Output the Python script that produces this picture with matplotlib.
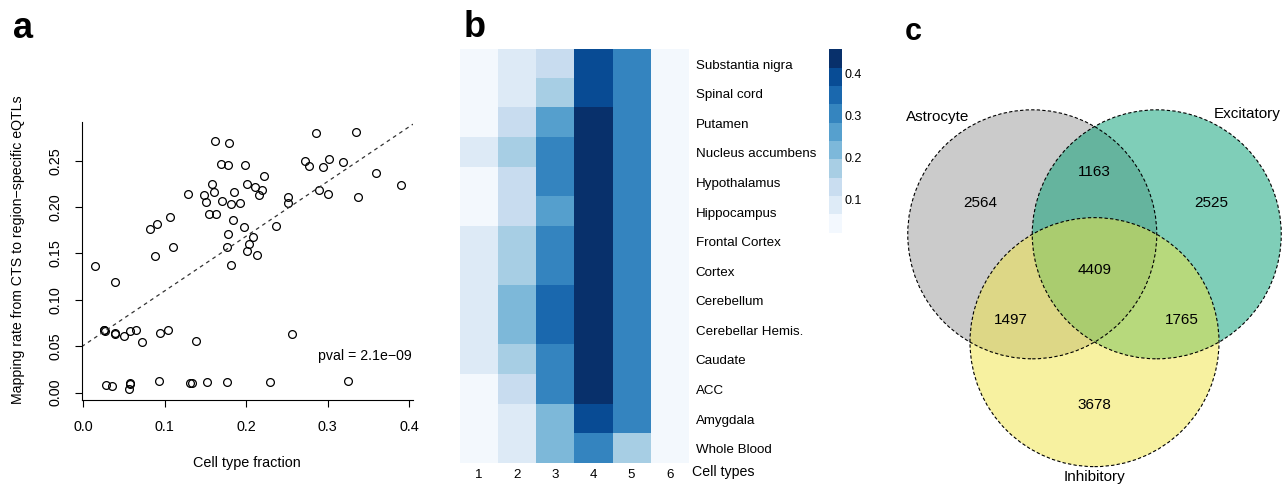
import numpy as np
import matplotlib.pyplot as plt
from matplotlib.colors import ListedColormap, BoundaryNorm
from matplotlib.patches import Circle
from matplotlib.ticker import NullLocator

plt.rcParams['font.family'] = ['Liberation Sans', 'DejaVu Sans']

# panel a: cell type fraction vs mapping rate
frac = [0.014, 0.039, 0.082, 0.091, 0.107, 0.088, 0.110, 0.129, 0.148, 0.151,
        0.158, 0.161, 0.162, 0.179, 0.169, 0.178, 0.198, 0.155, 0.163, 0.170,
        0.182, 0.193, 0.185, 0.201, 0.211, 0.220, 0.216, 0.222, 0.184, 0.197,
        0.178, 0.208, 0.204, 0.201, 0.213, 0.177, 0.182, 0.237, 0.251, 0.251,
        0.272, 0.277, 0.286, 0.290, 0.300, 0.295, 0.302, 0.319, 0.335, 0.338,
        0.359, 0.390,
        0.026, 0.027, 0.026, 0.039, 0.039, 0.050, 0.057, 0.065, 0.072, 0.094,
        0.104, 0.139, 0.256,
        0.028, 0.035, 0.057, 0.057, 0.056, 0.093, 0.131, 0.134, 0.152, 0.177,
        0.229, 0.325]
rate = [0.137, 0.119, 0.176, 0.182, 0.189, 0.147, 0.157, 0.214, 0.213, 0.205,
        0.225, 0.216, 0.271, 0.269, 0.246, 0.245, 0.245, 0.193, 0.193, 0.207,
        0.203, 0.204, 0.216, 0.225, 0.222, 0.218, 0.213, 0.234, 0.186, 0.179,
        0.171, 0.168, 0.160, 0.153, 0.148, 0.157, 0.138, 0.180, 0.211, 0.204,
        0.250, 0.244, 0.280, 0.218, 0.214, 0.243, 0.252, 0.249, 0.281, 0.211,
        0.237, 0.224,
        0.067, 0.066, 0.068, 0.064, 0.063, 0.061, 0.066, 0.067, 0.055, 0.064,
        0.067, 0.056, 0.063,
        0.008, 0.007, 0.009, 0.010, 0.004, 0.013, 0.010, 0.010, 0.012, 0.011,
        0.011, 0.013]
fit_intercept = 0.0508
fit_slope = 0.589
pval_text = 'pval = 2.1e\u221209'

# panel b: heatmap
tissues = ['Substantia nigra', 'Spinal cord', 'Putamen', 'Nucleus accumbens',
           'Hypothalamus', 'Hippocampus', 'Frontal Cortex', 'Cortex',
           'Cerebellum', 'Cerebellar Hemis.', 'Caudate', 'ACC', 'Amygdala',
           'Whole Blood']
cell_types = ['1', '2', '3', '4', '5', '6']
heat = [
    [0.04, 0.085, 0.13, 0.39, 0.30, 0.04],
    [0.04, 0.085, 0.17, 0.39, 0.30, 0.04],
    [0.04, 0.13, 0.26, 0.435, 0.30, 0.04],
    [0.085, 0.17, 0.30, 0.435, 0.30, 0.04],
    [0.04, 0.13, 0.30, 0.435, 0.30, 0.04],
    [0.04, 0.13, 0.26, 0.435, 0.30, 0.04],
    [0.085, 0.17, 0.30, 0.435, 0.30, 0.04],
    [0.085, 0.17, 0.30, 0.435, 0.30, 0.04],
    [0.085, 0.215, 0.345, 0.435, 0.30, 0.04],
    [0.085, 0.215, 0.345, 0.435, 0.30, 0.04],
    [0.085, 0.17, 0.30, 0.435, 0.30, 0.04],
    [0.04, 0.13, 0.30, 0.435, 0.30, 0.04],
    [0.04, 0.085, 0.215, 0.39, 0.30, 0.04],
    [0.04, 0.085, 0.215, 0.30, 0.17, 0.04],
]
cbar_ticks = [0.1, 0.2, 0.3, 0.4]

# panel c: venn counts
venn_sets = ['Astrocyte', 'Excitatory', 'Inhibitory']
venn_colors = ['#999999', '#009E73', '#F0E442']
only_a, only_e, only_i = 2564, 2525, 3678
a_e, a_i, e_i, a_e_i = 1163, 1497, 1765, 4409

W, H = 1285, 487
fig = plt.figure(figsize=(W / 100, H / 100), dpi=100)

def box(x0, y0, x1, y1):
    return [x0 / W, 1 - y1 / H, (x1 - x0) / W, (y1 - y0) / H]

# ---- a ----
ax = fig.add_axes(box(81.7, 121.7, 413, 400))
ax.plot(frac, rate, 'o', mfc='none', mec='black', ms=5.6, mew=0.9)
ax.axline((0, fit_intercept), slope=fit_slope, color='#333333', lw=0.9,
          ls=(0, (3, 3)))
ax.set_xlim(-0.002, 0.405)
ax.set_ylim(-0.0079, 0.292)
ax.set_xticks([0.0, 0.1, 0.2, 0.3, 0.4])
ax.set_xticklabels(['0.0', '0.1', '0.2', '0.3', '0.4'])
ax.set_yticks([0.0, 0.05, 0.10, 0.15, 0.20, 0.25])
ax.set_yticklabels(['0.00', '0.05', '0.10', '0.15', '0.20', '0.25'],
                   rotation=90, va='center')
ax.tick_params(labelsize=10.4, length=5, width=0.8)
ax.tick_params(axis='x', pad=9.5)
ax.tick_params(axis='y', pad=8.5)
for s in ['top', 'right']:
    ax.spines[s].set_visible(False)
for s in ['left', 'bottom']:
    ax.spines[s].set_linewidth(0.8)
ax.text(0.404, 0.0396, pval_text, ha='right', va='center', fontsize=10.2)
ax.set_xlabel('Cell type fraction', fontsize=10.4, labelpad=16)
ax.set_ylabel('Mapping rate from CTS to region\u2212specific eQTLs',
              fontsize=10.2)
ax.yaxis.set_label_coords(-0.172, 0.539)

# ---- b ----
levels = np.linspace(0.02, 0.457, 11)
cmap = ListedColormap(plt.get_cmap('Blues')(np.linspace(0.02, 1.0, 10)))
norm = BoundaryNorm(levels, cmap.N)
hx = fig.add_axes(box(460, 49.3, 688.7, 463.5))
im = hx.imshow(np.array(heat), cmap=cmap, norm=norm, aspect='auto',
               interpolation='nearest')
hx.set_xticks(range(len(cell_types)))
hx.set_xticklabels(cell_types)
hx.set_yticks(range(len(tissues)))
hx.set_yticklabels(tissues)
hx.yaxis.tick_right()
hx.tick_params(length=0, labelsize=9.6, pad=5)
hx.tick_params(axis='x', pad=4)
for s in hx.spines.values():
    s.set_visible(False)
hx.text(1.015, -0.02, 'Cell types', transform=hx.transAxes, ha='left',
        va='center', fontsize=10.2)

cx = fig.add_axes(box(829.3, 49.3, 842, 232.7))
cb = fig.colorbar(im, cax=cx, ticks=cbar_ticks)
cb.outline.set_visible(False)
cb.ax.yaxis.set_minor_locator(NullLocator())
cb.ax.tick_params(which='both', length=0, labelsize=9, pad=2)
cb.ax.set_yticklabels(['0.1', '0.2', '0.3', '0.4'])

# ---- c ----
r_px = 124.5
cxp, cyp = 1094.5, 270.3
vx = fig.add_axes(box(880, 0, 1285, 487))
vx.set_xlim((880 - cxp) / r_px, (1285 - cxp) / r_px)
vx.set_ylim((cyp - 487) / r_px, cyp / r_px)
vx.axis('off')
centers = [(-0.5, 0.289), (0.5, 0.289), (0.0, -0.577)]
for c, col in zip(centers, venn_colors):
    vx.add_patch(Circle(c, 1.0, facecolor=col, alpha=0.5, edgecolor='none'))
for c in centers:
    vx.add_patch(Circle(c, 1.0, facecolor='none', edgecolor='black', lw=0.8,
                        ls=(0, (3, 2))))
fs = 11
vx.text(-0.92, 0.538, str(only_a), ha='center', va='center', fontsize=fs)
vx.text(0.94, 0.538, str(only_e), ha='center', va='center', fontsize=fs)
vx.text(0.0, -1.082, str(only_i), ha='center', va='center', fontsize=fs)
vx.text(0.0, 0.79, str(a_e), ha='center', va='center', fontsize=fs)
vx.text(-0.673, -0.40, str(a_i), ha='center', va='center', fontsize=fs)
vx.text(0.70, -0.40, str(e_i), ha='center', va='center', fontsize=fs)
vx.text(0.0, 0.0, str(a_e_i), ha='center', va='center', fontsize=fs)
vx.text(-1.258, 1.234, venn_sets[0], ha='center', va='center', fontsize=fs)
vx.text(1.224, 1.253, venn_sets[1], ha='center', va='center', fontsize=fs)
vx.text(0.0, -1.663, venn_sets[2], ha='center', va='center', fontsize=fs)

# panel letters
fig.text(13 / W, 1 - 38 / H, 'a', fontsize=26, fontweight='bold', va='baseline')
fig.text(464 / W, 1 - 37 / H, 'b', fontsize=26, fontweight='bold', va='baseline')
fig.text(905 / W, 1 - 40 / H, 'c', fontsize=22, fontweight='bold', va='baseline')

fig.savefig('out.png', dpi=100)
